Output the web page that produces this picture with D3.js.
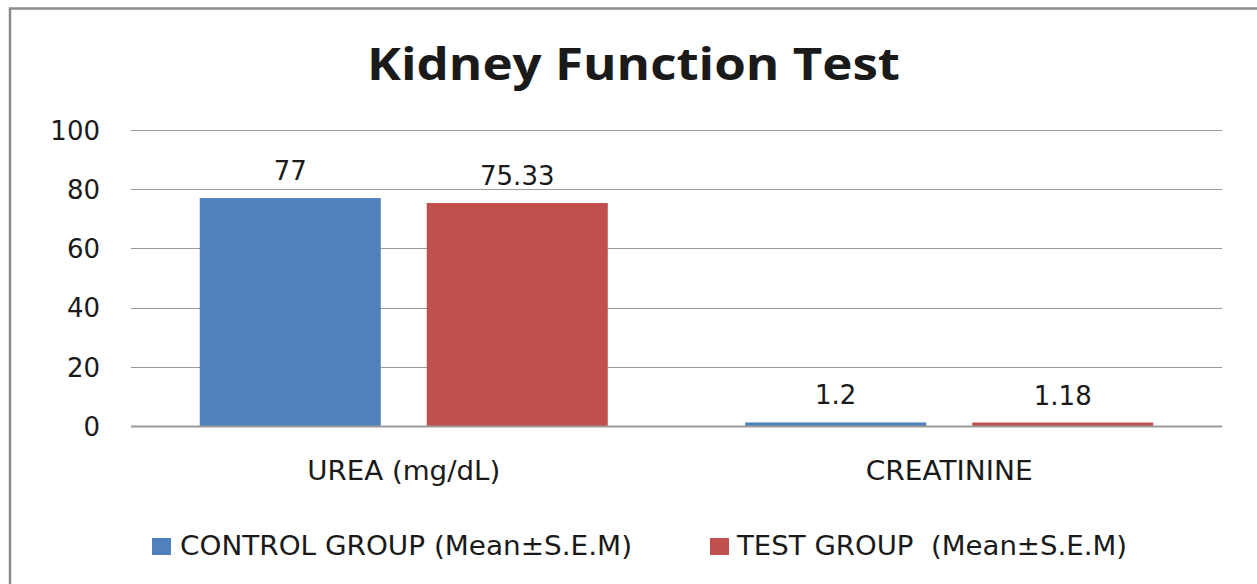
<!DOCTYPE html>
<html>
<head>
<meta charset="utf-8">
<script src="https://cdn.jsdelivr.net/npm/d3@7"></script>
<style>
  html, body { margin: 0; padding: 0; background: #fff; overflow: hidden; }
  text { font-family: "DejaVu Sans", sans-serif; fill: #1a1a1a; }
</style>
</head>
<body>
<svg id="chart" width="1257" height="584"></svg>
<script>
const categories = ["UREA (mg/dL)", "CREATININE"];
const seriesNames = ["CONTROL GROUP (Mean\u00B1S.E.M)", "TEST GROUP  (Mean\u00B1S.E.M)"];
const controlValues = [77, 1.2];
const testValues = [75.33, 1.18];
const valueLabels = [["77", "1.2"], ["75.33", "1.18"]];
const yTicks = [0, 20, 40, 60, 80, 100];
const colors = ["#4F81BD", "#C0504D"];
const titleText = "Kidney Function Test";

const series = [controlValues, testValues];

const svg = d3.select("#chart");
const W = 1257, H = 584;
svg.append("rect").attr("width", W).attr("height", H).attr("fill", "#fff");

// outer chart frame (right and bottom edges are outside the view)
svg.append("rect")
  .attr("x", 10).attr("y", 8.5)
  .attr("width", W + 20).attr("height", H + 20)
  .attr("fill", "none").attr("stroke", "#8c8c8c").attr("stroke-width", 2.5);

const plot = { left: 131, right: 1222, top: 130, bottom: 426 };

const y = d3.scaleLinear().domain([0, 100]).range([plot.bottom, plot.top]);
const x0 = d3.scaleBand().domain(categories).range([plot.left, plot.right]).padding(0);
const x1 = d3.scaleBand().domain(d3.range(series.length))
  .range([0, x0.bandwidth()]).paddingInner(0.2026).paddingOuter(0.3028);

// gridlines
svg.append("g").selectAll("line").data(yTicks.filter(d => d !== 0)).join("line")
  .attr("x1", plot.left).attr("x2", plot.right)
  .attr("y1", d => Math.round(y(d)) + 0.5).attr("y2", d => Math.round(y(d)) + 0.5)
  .attr("stroke", "#9a9a9a").attr("stroke-width", 1.2);

// y axis labels via d3 axis
const yAxis = d3.axisLeft(y).tickValues(yTicks).tickSize(0).tickPadding(0);
const yg = svg.append("g").attr("transform", `translate(${plot.left - 31},0)`).call(yAxis);
yg.select(".domain").remove();
yg.selectAll("text")
  .style("font-family", "'DejaVu Sans', sans-serif")
  .style("font-size", "26px").attr("fill", "#1a1a1a").attr("dy", "0.36em");

// bars
const groups = svg.append("g").selectAll("g").data(categories).join("g")
  .attr("transform", d => `translate(${x0(d)},0)`);

groups.selectAll("rect").data((d, ci) => series.map((s, si) => ({ si, v: s[ci], ci }))).join("rect")
  .attr("x", d => x1(d.si))
  .attr("width", x1.bandwidth())
  .attr("y", d => y(d.v))
  .attr("height", d => y(0) - y(d.v))
  .attr("fill", d => colors[d.si]);

// value labels
groups.selectAll("text.val").data((d, ci) => series.map((s, si) => ({ si, v: s[ci], ci }))).join("text")
  .attr("class", "val")
  .attr("x", d => x1(d.si) + x1.bandwidth() / 2)
  .attr("y", d => y(d.v) - 18)
  .attr("text-anchor", "middle")
  .style("font-size", "26px")
  .text(d => valueLabels[d.si][d.ci]);

// zero axis line
svg.append("line")
  .attr("x1", plot.left).attr("x2", plot.right)
  .attr("y1", y(0) + 0.5).attr("y2", y(0) + 0.5)
  .attr("stroke", "#9a9a9a").attr("stroke-width", 2);

// category labels
const catWidths = [193, 167];
svg.append("g").selectAll("text").data(categories).join("text")
  .attr("x", d => x0(d) + x0.bandwidth() / 2)
  .attr("y", 480)
  .attr("text-anchor", "middle")
  .style("font-size", "26px")
  .attr("textLength", (d, i) => catWidths[i])
  .attr("lengthAdjust", "spacingAndGlyphs")
  .text(d => d);

// title
svg.append("text")
  .attr("x", 633.5).attr("y", 80)
  .attr("text-anchor", "middle")
  .style("font-family", "'Open Sans', sans-serif")
  .style("font-weight", "bold")
  .style("font-size", "44px")
  .attr("fill", "#000")
  .attr("textLength", 533)
  .attr("lengthAdjust", "spacingAndGlyphs")
  .text(titleText);

// legend
const legendItems = [
  { sx: 152, tx: 180, tw: 452 },
  { sx: 710, tx: 737, tw: 390 }
];
const lg = svg.append("g").selectAll("g").data(seriesNames).join("g");
lg.append("rect")
  .attr("x", (d, i) => legendItems[i].sx).attr("y", 538)
  .attr("width", 19).attr("height", 17)
  .attr("fill", (d, i) => colors[i]);
lg.append("text")
  .attr("x", (d, i) => legendItems[i].tx).attr("y", 555)
  .style("font-size", "26px")
  .style("white-space", "pre")
  .attr("xml:space", "preserve")
  .attr("textLength", (d, i) => legendItems[i].tw)
  .attr("lengthAdjust", "spacingAndGlyphs")
  .text(d => d);
</script>
</body>
</html>
